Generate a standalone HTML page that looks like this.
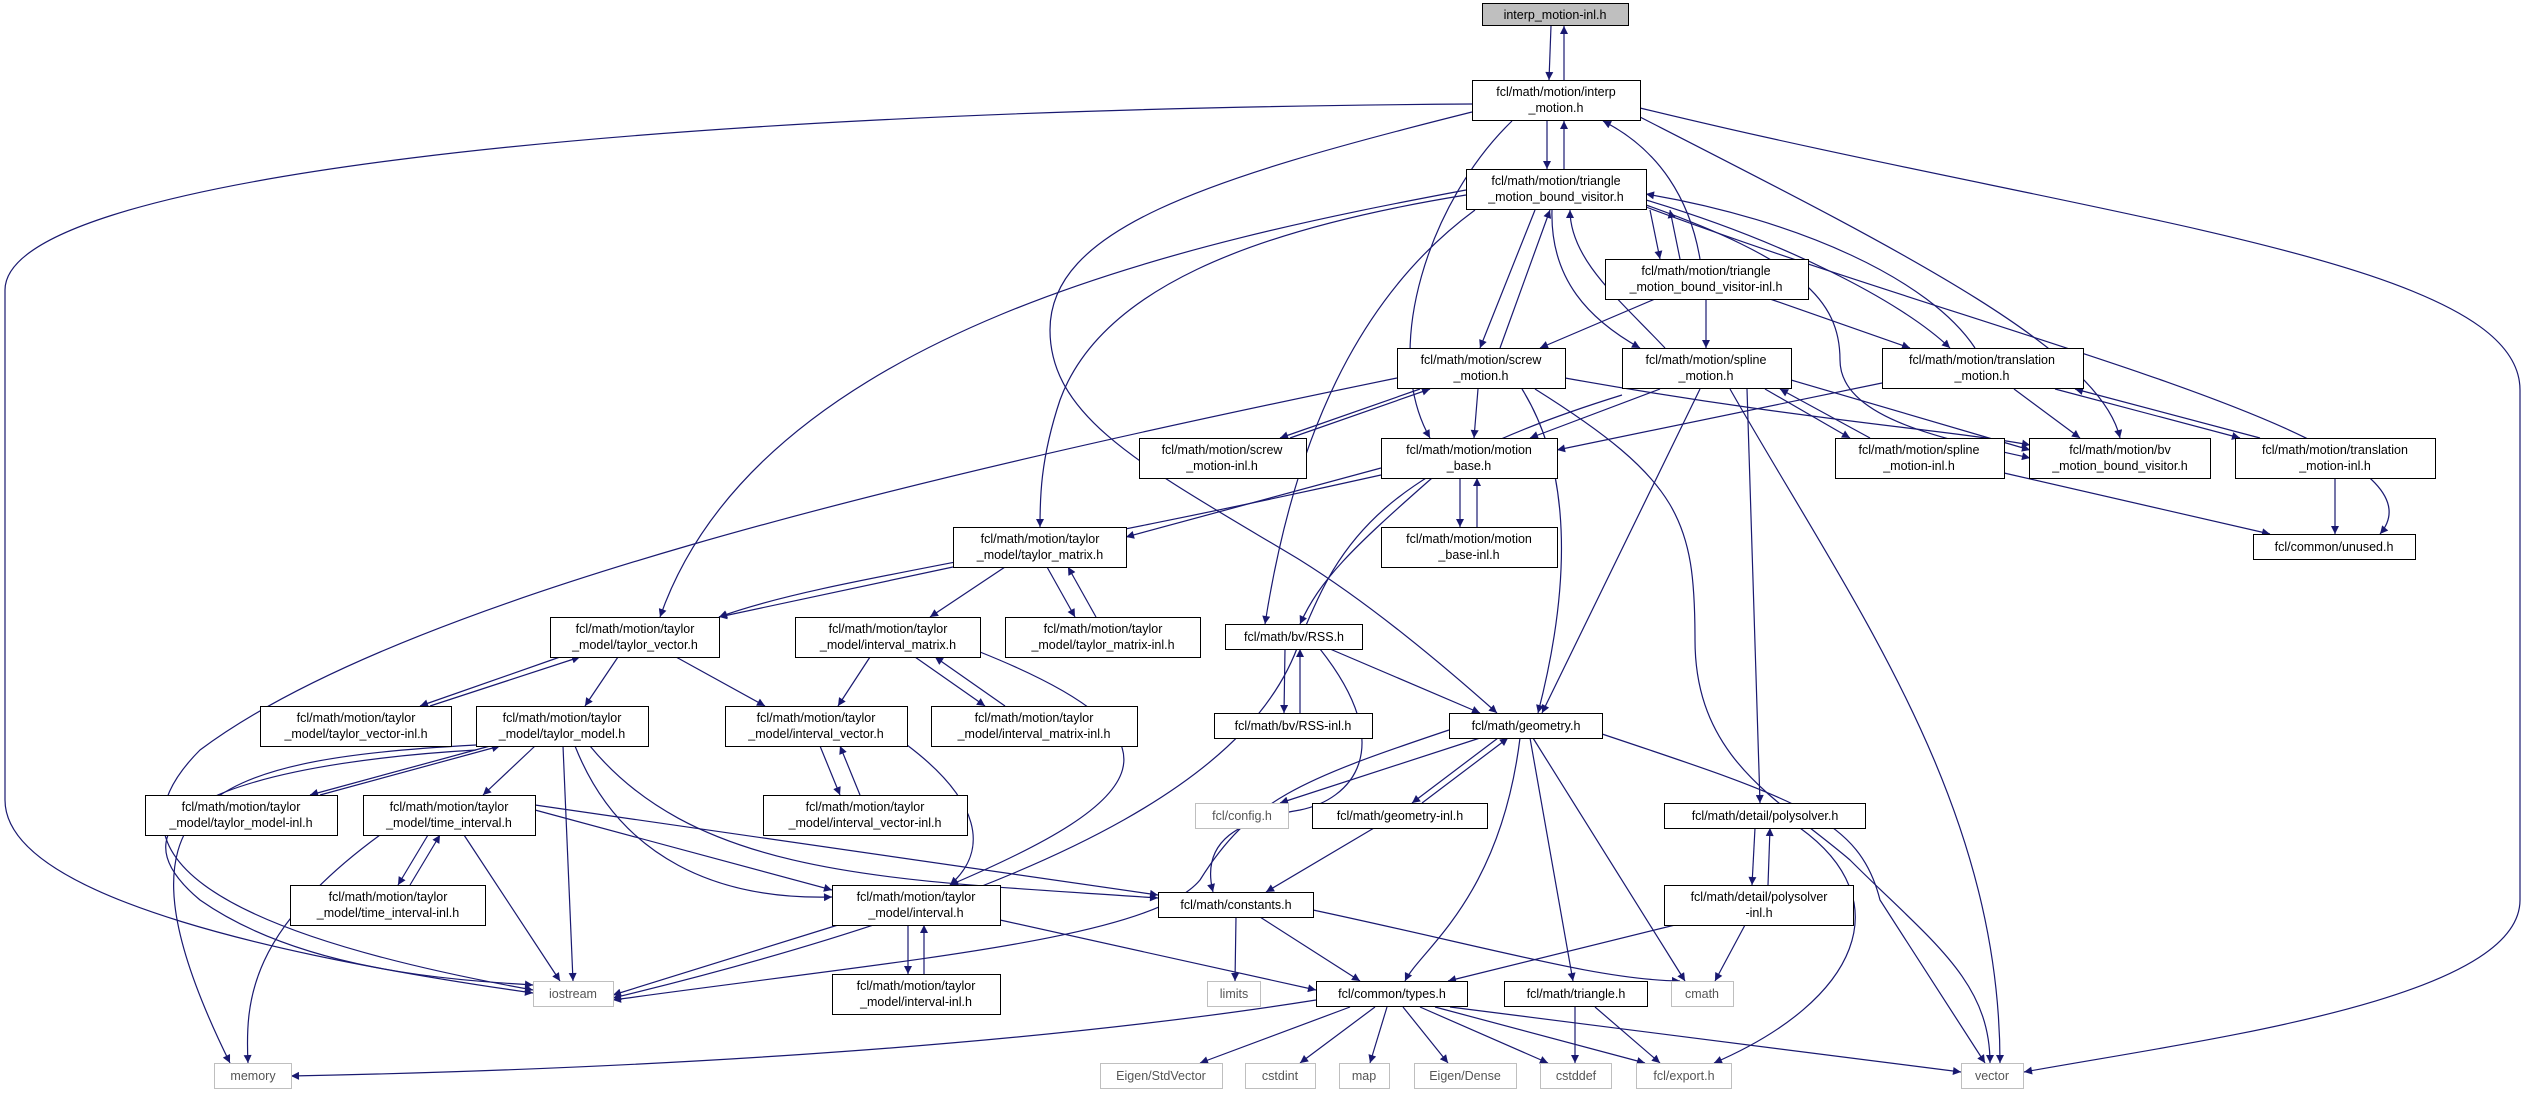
<!DOCTYPE html>
<html><head><meta charset="utf-8"><style>
html,body{margin:0;padding:0;background:#fff;width:2528px;height:1095px;overflow:hidden}
svg{display:block}
text{font-family:"Liberation Sans",sans-serif;font-size:12.5px;fill:#000;text-anchor:middle}
.g text{fill:#555}
.e path{fill:none;stroke:#191970;stroke-width:1.2}
</style></head><body>
<svg width="2528" height="1095" viewBox="0 0 2528 1095" xmlns="http://www.w3.org/2000/svg">
<defs><marker id="a" viewBox="0 0 10 10" refX="10" refY="5" markerWidth="10" markerHeight="8" markerUnits="userSpaceOnUse" orient="auto"><path d="M0,0 L10,5 L0,10 z" fill="#191970"/></marker></defs>
<g class="e" marker-end="url(#a)">
<path d="M1551,26 L1549,80" marker-end="url(#a)"/>
<path d="M1564,80 L1564,26" marker-end="url(#a)"/>
<path d="M1472,104 C600,110 5,180 5,290 L5,800 C5,900 300,960 533,993" marker-end="url(#a)"/>
<path d="M1640,108 C2100,220 2520,260 2520,390 L2520,900 C2520,1000 2200,1040 2024,1072" marker-end="url(#a)"/>
<path d="M1547,121 L1547,169" marker-end="url(#a)"/>
<path d="M1564,169 L1564,121" marker-end="url(#a)"/>
<path d="M1512,121 C1430,200 1380,350 1430,438" marker-end="url(#a)"/>
<path d="M1472,112 C1200,180 1050,230 1050,330 C1050,420 1150,470 1300,560 C1380,610 1460,680 1497,713" marker-end="url(#a)"/>
<path d="M1640,117 C1900,250 2100,350 2120,438" marker-end="url(#a)"/>
<path d="M1700,259 C1690,200 1660,150 1603,121" marker-end="url(#a)"/>
<path d="M1650,210 L1660,259" marker-end="url(#a)"/>
<path d="M1680,259 L1670,210" marker-end="url(#a)"/>
<path d="M1535,210 L1480,348" marker-end="url(#a)"/>
<path d="M1500,348 L1550,210" marker-end="url(#a)"/>
<path d="M1552,210 C1550,280 1590,320 1640,348" marker-end="url(#a)"/>
<path d="M1665,348 C1620,300 1570,260 1570,210" marker-end="url(#a)"/>
<path d="M1646,200 C1780,240 1900,300 1950,348" marker-end="url(#a)"/>
<path d="M1975,348 C1930,280 1800,220 1646,194" marker-end="url(#a)"/>
<path d="M1646,205 C1800,260 1840,300 1840,360 C1840,420 1950,440 2030,458" marker-end="url(#a)"/>
<path d="M1646,207 C2000,340 2460,440 2380,534" marker-end="url(#a)"/>
<path d="M1466,190 C1200,240 760,330 660,617" marker-end="url(#a)"/>
<path d="M1466,195 C1250,230 1100,290 1060,400 C1040,460 1040,500 1040,527" marker-end="url(#a)"/>
<path d="M1475,210 C1380,280 1300,400 1265,624" marker-end="url(#a)"/>
<path d="M1655,299 L1540,348" marker-end="url(#a)"/>
<path d="M1706,299 L1706,348" marker-end="url(#a)"/>
<path d="M1770,299 L1910,348" marker-end="url(#a)"/>
<path d="M1420,389 L1280,438" marker-end="url(#a)"/>
<path d="M1290,438 L1430,389" marker-end="url(#a)"/>
<path d="M1478,389 L1474,438" marker-end="url(#a)"/>
<path d="M1565,378 C1800,420 1950,430 2030,445" marker-end="url(#a)"/>
<path d="M1522,389 C1560,450 1580,550 1538,713" marker-end="url(#a)"/>
<path d="M1535,389 C1680,480 1695,520 1695,640 C1695,760 1780,800 1850,860 C1930,940 1990,980 1990,1063" marker-end="url(#a)"/>
<path d="M1397,378 C900,480 400,600 200,750 C100,850 200,930 533,990" marker-end="url(#a)"/>
<path d="M1660,389 L1530,438" marker-end="url(#a)"/>
<path d="M1791,380 L2030,450" marker-end="url(#a)"/>
<path d="M1765,389 L1850,438" marker-end="url(#a)"/>
<path d="M1870,438 L1780,389" marker-end="url(#a)"/>
<path d="M1700,389 L1542,713" marker-end="url(#a)"/>
<path d="M1747,389 L1760,803" marker-end="url(#a)"/>
<path d="M1730,389 C1850,600 2000,800 2000,1063" marker-end="url(#a)"/>
<path d="M1622,395 C1380,470 1340,540 1300,640 C1260,760 1100,880 613,998" marker-end="url(#a)"/>
<path d="M1882,383 L1557,450" marker-end="url(#a)"/>
<path d="M2014,389 L2080,438" marker-end="url(#a)"/>
<path d="M2055,389 L2240,438" marker-end="url(#a)"/>
<path d="M2260,438 L2075,389" marker-end="url(#a)"/>
<path d="M2004,473 L2270,534" marker-end="url(#a)"/>
<path d="M2335,478 L2335,534" marker-end="url(#a)"/>
<path d="M1460,478 L1460,527" marker-end="url(#a)"/>
<path d="M1477,527 L1477,478" marker-end="url(#a)"/>
<path d="M1381,468 L1126,537" marker-end="url(#a)"/>
<path d="M1381,475 C1000,560 820,580 719,617" marker-end="url(#a)"/>
<path d="M1432,478 C1350,550 1320,580 1300,624" marker-end="url(#a)"/>
<path d="M953,567 L719,617" marker-end="url(#a)"/>
<path d="M1005,567 L930,617" marker-end="url(#a)"/>
<path d="M1047,567 L1075,617" marker-end="url(#a)"/>
<path d="M1096,617 L1068,567" marker-end="url(#a)"/>
<path d="M560,657 L420,706" marker-end="url(#a)"/>
<path d="M430,706 L580,657" marker-end="url(#a)"/>
<path d="M618,657 L585,706" marker-end="url(#a)"/>
<path d="M676,657 L765,706" marker-end="url(#a)"/>
<path d="M870,657 L838,706" marker-end="url(#a)"/>
<path d="M915,657 L985,706" marker-end="url(#a)"/>
<path d="M1005,706 L935,657" marker-end="url(#a)"/>
<path d="M980,652 C1200,740 1150,800 950,885" marker-end="url(#a)"/>
<path d="M820,746 L840,795" marker-end="url(#a)"/>
<path d="M860,795 L840,746" marker-end="url(#a)"/>
<path d="M907,745 C980,800 990,850 950,885" marker-end="url(#a)"/>
<path d="M490,746 L310,795" marker-end="url(#a)"/>
<path d="M320,795 L500,746" marker-end="url(#a)"/>
<path d="M535,746 L483,795" marker-end="url(#a)"/>
<path d="M563,746 L573,981" marker-end="url(#a)"/>
<path d="M575,746 C620,860 720,900 832,897" marker-end="url(#a)"/>
<path d="M590,746 C700,880 900,880 1158,898" marker-end="url(#a)"/>
<path d="M476,745 C200,760 100,800 230,1063" marker-end="url(#a)"/>
<path d="M476,750 C300,760 80,800 200,900 C300,970 450,980 533,985" marker-end="url(#a)"/>
<path d="M428,835 L398,885" marker-end="url(#a)"/>
<path d="M410,885 L440,835" marker-end="url(#a)"/>
<path d="M535,810 L832,890" marker-end="url(#a)"/>
<path d="M535,805 L1158,895" marker-end="url(#a)"/>
<path d="M464,835 L560,981" marker-end="url(#a)"/>
<path d="M380,835 C250,930 245,1000 248,1063" marker-end="url(#a)"/>
<path d="M908,925 L908,974" marker-end="url(#a)"/>
<path d="M924,974 L924,925" marker-end="url(#a)"/>
<path d="M838,925 L613,995" marker-end="url(#a)"/>
<path d="M1000,920 L1316,990" marker-end="url(#a)"/>
<path d="M1449,730 C1300,780 1250,800 1200,880 C1150,940 900,960 613,1000" marker-end="url(#a)"/>
<path d="M1480,738 L1280,803" marker-end="url(#a)"/>
<path d="M1498,738 L1412,803" marker-end="url(#a)"/>
<path d="M1422,803 L1508,738" marker-end="url(#a)"/>
<path d="M1520,738 C1500,900 1420,950 1405,981" marker-end="url(#a)"/>
<path d="M1530,738 L1573,981" marker-end="url(#a)"/>
<path d="M1533,738 L1685,981" marker-end="url(#a)"/>
<path d="M1602,734 C1800,800 1860,820 1880,900 L1985,1063" marker-end="url(#a)"/>
<path d="M1374,828 L1266,892" marker-end="url(#a)"/>
<path d="M1285,649 L1284,713" marker-end="url(#a)"/>
<path d="M1300,713 L1300,649" marker-end="url(#a)"/>
<path d="M1330,649 L1480,713" marker-end="url(#a)"/>
<path d="M1320,649 C1400,750 1350,800 1300,810 C1240,820 1200,840 1213,892" marker-end="url(#a)"/>
<path d="M1236,917 L1235,981" marker-end="url(#a)"/>
<path d="M1260,917 L1360,981" marker-end="url(#a)"/>
<path d="M1313,910 C1500,950 1600,980 1680,981" marker-end="url(#a)"/>
<path d="M1755,828 L1752,885" marker-end="url(#a)"/>
<path d="M1768,885 L1770,828" marker-end="url(#a)"/>
<path d="M1800,828 C1900,900 1860,1000 1714,1063" marker-end="url(#a)"/>
<path d="M1675,925 L1448,981" marker-end="url(#a)"/>
<path d="M1745,925 L1715,981" marker-end="url(#a)"/>
<path d="M1316,1000 C1000,1050 600,1070 291,1076" marker-end="url(#a)"/>
<path d="M1350,1007 L1200,1063" marker-end="url(#a)"/>
<path d="M1375,1007 L1300,1063" marker-end="url(#a)"/>
<path d="M1387,1007 L1370,1063" marker-end="url(#a)"/>
<path d="M1403,1007 L1448,1063" marker-end="url(#a)"/>
<path d="M1420,1007 L1548,1063" marker-end="url(#a)"/>
<path d="M1435,1007 L1645,1063" marker-end="url(#a)"/>
<path d="M1450,1007 L1961,1072" marker-end="url(#a)"/>
<path d="M1575,1007 L1575,1063" marker-end="url(#a)"/>
<path d="M1595,1007 L1660,1063" marker-end="url(#a)"/>
</g>
<g fill="#fff" stroke="#000">
<rect x="1482.5" y="3.5" width="146" height="22" fill="#bfbfbf"/>
<rect x="1472.5" y="80.5" width="168" height="40"/>
<rect x="1466.5" y="169.5" width="180" height="40"/>
<rect x="1605.5" y="259.5" width="203" height="40"/>
<rect x="1397.5" y="348.5" width="168" height="40"/>
<rect x="1622.5" y="348.5" width="169" height="40"/>
<rect x="1882.5" y="348.5" width="201" height="40"/>
<rect x="1139.5" y="438.5" width="167" height="40"/>
<rect x="1381.5" y="438.5" width="176" height="40"/>
<rect x="1835.5" y="438.5" width="169" height="40"/>
<rect x="2029.5" y="438.5" width="181" height="40"/>
<rect x="2235.5" y="438.5" width="200" height="40"/>
<rect x="1381.5" y="527.5" width="176" height="40"/>
<rect x="2253.5" y="534.5" width="162" height="25"/>
<rect x="953.5" y="527.5" width="173" height="40"/>
<rect x="550.5" y="617.5" width="169" height="40"/>
<rect x="795.5" y="617.5" width="185" height="40"/>
<rect x="1005.5" y="617.5" width="195" height="40"/>
<rect x="1225.5" y="624.5" width="137" height="25"/>
<rect x="260.5" y="706.5" width="191" height="40"/>
<rect x="476.5" y="706.5" width="172" height="40"/>
<rect x="725.5" y="706.5" width="182" height="40"/>
<rect x="931.5" y="706.5" width="206" height="40"/>
<rect x="1214.5" y="713.5" width="158" height="25"/>
<rect x="1449.5" y="713.5" width="153" height="25"/>
<rect x="145.5" y="795.5" width="192" height="40"/>
<rect x="363.5" y="795.5" width="172" height="40"/>
<rect x="763.5" y="795.5" width="204" height="40"/>
<rect x="1312.5" y="803.5" width="175" height="25"/>
<rect x="1664.5" y="803.5" width="201" height="25"/>
<rect x="290.5" y="885.5" width="195" height="40"/>
<rect x="832.5" y="885.5" width="168" height="40"/>
<rect x="1158.5" y="892.5" width="155" height="25"/>
<rect x="1664.5" y="885.5" width="189" height="40"/>
<rect x="832.5" y="974.5" width="168" height="40"/>
<rect x="1316.5" y="981.5" width="151" height="25"/>
<rect x="1504.5" y="981.5" width="143" height="25"/>
</g>
<g fill="#fff" stroke="#bfbfbf">
<rect x="1195.5" y="803.5" width="93" height="25"/>
<rect x="533.5" y="981.5" width="80" height="25"/>
<rect x="1207.5" y="981.5" width="53" height="25"/>
<rect x="1671.5" y="981.5" width="62" height="25"/>
<rect x="214.5" y="1063.5" width="77" height="25"/>
<rect x="1100.5" y="1063.5" width="122" height="25"/>
<rect x="1245.5" y="1063.5" width="70" height="25"/>
<rect x="1339.5" y="1063.5" width="50" height="25"/>
<rect x="1414.5" y="1063.5" width="102" height="25"/>
<rect x="1540.5" y="1063.5" width="71" height="25"/>
<rect x="1636.5" y="1063.5" width="95" height="25"/>
<rect x="1961.5" y="1063.5" width="62" height="25"/>
</g>
<g>
<text x="1555" y="19">interp_motion-inl.h</text>
<text x="1556" y="96">fcl/math/motion/interp</text><text x="1556" y="112">_motion.h</text>
<text x="1556" y="185">fcl/math/motion/triangle</text><text x="1556" y="201">_motion_bound_visitor.h</text>
<text x="1706" y="275">fcl/math/motion/triangle</text><text x="1706" y="291">_motion_bound_visitor-inl.h</text>
<text x="1481" y="364">fcl/math/motion/screw</text><text x="1481" y="380">_motion.h</text>
<text x="1706" y="364">fcl/math/motion/spline</text><text x="1706" y="380">_motion.h</text>
<text x="1982" y="364">fcl/math/motion/translation</text><text x="1982" y="380">_motion.h</text>
<text x="1222" y="454">fcl/math/motion/screw</text><text x="1222" y="470">_motion-inl.h</text>
<text x="1469" y="454">fcl/math/motion/motion</text><text x="1469" y="470">_base.h</text>
<text x="1919" y="454">fcl/math/motion/spline</text><text x="1919" y="470">_motion-inl.h</text>
<text x="2120" y="454">fcl/math/motion/bv</text><text x="2120" y="470">_motion_bound_visitor.h</text>
<text x="2335" y="454">fcl/math/motion/translation</text><text x="2335" y="470">_motion-inl.h</text>
<text x="1469" y="543">fcl/math/motion/motion</text><text x="1469" y="559">_base-inl.h</text>
<text x="2334" y="551">fcl/common/unused.h</text>
<text x="1040" y="543">fcl/math/motion/taylor</text><text x="1040" y="559">_model/taylor_matrix.h</text>
<text x="635" y="633">fcl/math/motion/taylor</text><text x="635" y="649">_model/taylor_vector.h</text>
<text x="888" y="633">fcl/math/motion/taylor</text><text x="888" y="649">_model/interval_matrix.h</text>
<text x="1103" y="633">fcl/math/motion/taylor</text><text x="1103" y="649">_model/taylor_matrix-inl.h</text>
<text x="1294" y="641">fcl/math/bv/RSS.h</text>
<text x="356" y="722">fcl/math/motion/taylor</text><text x="356" y="738">_model/taylor_vector-inl.h</text>
<text x="562" y="722">fcl/math/motion/taylor</text><text x="562" y="738">_model/taylor_model.h</text>
<text x="816" y="722">fcl/math/motion/taylor</text><text x="816" y="738">_model/interval_vector.h</text>
<text x="1034" y="722">fcl/math/motion/taylor</text><text x="1034" y="738">_model/interval_matrix-inl.h</text>
<text x="1293" y="730">fcl/math/bv/RSS-inl.h</text>
<text x="1526" y="730">fcl/math/geometry.h</text>
<text x="241" y="811">fcl/math/motion/taylor</text><text x="241" y="827">_model/taylor_model-inl.h</text>
<text x="449" y="811">fcl/math/motion/taylor</text><text x="449" y="827">_model/time_interval.h</text>
<text x="865" y="811">fcl/math/motion/taylor</text><text x="865" y="827">_model/interval_vector-inl.h</text>
<text x="1400" y="820">fcl/math/geometry-inl.h</text>
<text x="1765" y="820">fcl/math/detail/polysolver.h</text>
<text x="388" y="901">fcl/math/motion/taylor</text><text x="388" y="917">_model/time_interval-inl.h</text>
<text x="916" y="901">fcl/math/motion/taylor</text><text x="916" y="917">_model/interval.h</text>
<text x="1236" y="909">fcl/math/constants.h</text>
<text x="1759" y="901">fcl/math/detail/polysolver</text><text x="1759" y="917">-inl.h</text>
<text x="916" y="990">fcl/math/motion/taylor</text><text x="916" y="1006">_model/interval-inl.h</text>
<text x="1392" y="998">fcl/common/types.h</text>
<text x="1576" y="998">fcl/math/triangle.h</text>
</g>
<g class="g">
<text x="1242" y="820">fcl/config.h</text>
<text x="573" y="998">iostream</text>
<text x="1234" y="998">limits</text>
<text x="1702" y="998">cmath</text>
<text x="253" y="1080">memory</text>
<text x="1161" y="1080">Eigen/StdVector</text>
<text x="1280" y="1080">cstdint</text>
<text x="1364" y="1080">map</text>
<text x="1465" y="1080">Eigen/Dense</text>
<text x="1576" y="1080">cstddef</text>
<text x="1684" y="1080">fcl/export.h</text>
<text x="1992" y="1080">vector</text>
</g>
</svg>
</body></html>
